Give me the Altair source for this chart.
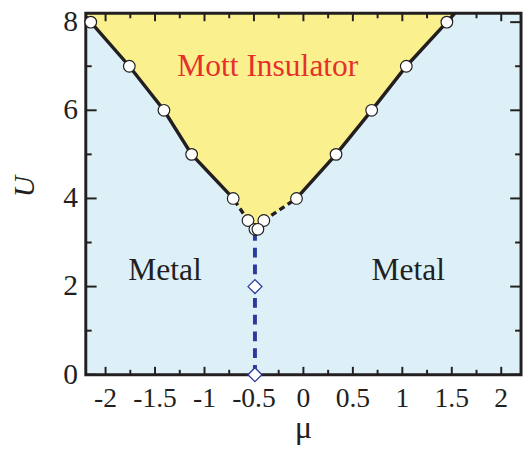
import altair as alt
import pandas as pd

# Phase boundary (Mott insulator / metal)
U_levels = [8.0, 7.0, 6.0, 5.0, 4.0, 3.5, 3.3]
mu_left = [-2.15, -1.76, -1.41, -1.13, -0.71, -0.56, -0.49]
mu_right = [1.45, 1.04, 0.69, 0.33, -0.07, -0.40, -0.46]
# where the boundary meets the top of the frame
U_edge = 8.2
mu_left_edge = -2.23
mu_right_edge = 1.53

# metal-metal line (blue)
mu_crit = -0.49
U_diamonds = [0.0, 2.0]
U_crit_top = 3.3

# region labels
label_text = ["Mott Insulator", "Metal", "Metal"]
label_mu = [-0.36, -1.40, 1.06]
label_U = [6.78, 2.16, 2.16]
label_color = ["#e5302c", "#231f20", "#231f20"]

# axis ticks and labels
x_major = [-2, -1.5, -1, -0.5, 0, 0.5, 1, 1.5, 2]
x_labels = ["-2", "-1.5", "-1", "-0.5", "0", "0.5", "1", "1.5", "2"]
x_minor = [-1.75, -1.25, -0.75, -0.25, 0.25, 0.75, 1.25, 1.75]
y_major = [0, 2, 4, 6, 8]
y_labels = ["0", "2", "4", "6", "8"]
y_minor = [1, 3, 5, 7]
x_title = "μ"
y_title = "U"

X_DOM = [-2.2, 2.2]
Y_DOM = [0, 8.2]
W, H = 442, 367
FONT = "Liberation Serif, Times New Roman, serif"
INK = "#231f20"

xs = alt.Scale(domain=X_DOM, nice=False, zero=False)
ys = alt.Scale(domain=Y_DOM, nice=False, zero=False)

# ---------- data tables ----------
area_df = pd.DataFrame({
    "U": [U_edge] + U_levels,
    "left": [mu_left_edge] + mu_left,
    "right": [mu_right_edge] + mu_right,
})

rows = []
for u, m in zip([U_edge] + U_levels, [mu_left_edge] + mu_left):
    rows.append({"branch": "L", "U": u, "mu": m})
for u, m in zip([U_edge] + U_levels, [mu_right_edge] + mu_right):
    rows.append({"branch": "R", "U": u, "mu": m})
bnd = pd.DataFrame(rows)
solid_df = bnd[bnd["U"] >= 4.0]
dash_df = bnd[bnd["U"] <= 4.0]

pts_df = pd.DataFrame({"mu": mu_left + mu_right, "U": U_levels + U_levels})
crit_line_df = pd.DataFrame({"mu": [mu_crit, mu_crit], "U": [0.0, U_crit_top]})
diam_df = pd.DataFrame({"mu": [mu_crit] * len(U_diamonds), "U": U_diamonds})
text_df = pd.DataFrame({"t": label_text, "mu": label_mu, "U": label_U, "c": label_color})

xmaj_df = pd.DataFrame({"v": x_major, "t": x_labels})
xmin_df = pd.DataFrame({"v": x_minor})
ymaj_df = pd.DataFrame({"v": y_major, "t": y_labels})
ymin_df = pd.DataFrame({"v": y_minor})
one_df = pd.DataFrame({"a": [0]})


def X(field):
    return alt.X(field, type="quantitative", scale=xs, axis=None)


def Y(field):
    return alt.Y(field, type="quantitative", scale=ys, axis=None)


# ---------- layers ----------
area = alt.Chart(area_df).mark_area(
    orient="horizontal", color="#fbf08e", clip=True, opacity=1
).encode(y=Y("U"), x=X("left"), x2="right:Q")


def xtick(df, top, length):
    y0 = 0 if top else H
    y1 = length if top else H - length
    return alt.Chart(df).mark_rule(color=INK, strokeWidth=2).encode(
        x=X("v"), y=alt.value(y0), y2=alt.value(y1))


def ytick(df, right, length):
    x0 = W if right else 0
    x1 = W - length if right else length
    return alt.Chart(df).mark_rule(color=INK, strokeWidth=2).encode(
        y=Y("v"), x=alt.value(x0), x2=alt.value(x1))


ticks = [
    xtick(xmaj_df, False, 8), xtick(xmin_df, False, 5),
    xtick(xmaj_df, True, 8), xtick(xmin_df, True, 5),
    ytick(ymaj_df, False, 11), ytick(ymin_df, False, 6),
    ytick(ymaj_df, True, 11), ytick(ymin_df, True, 6),
]

xlab = alt.Chart(xmaj_df).mark_text(
    font=FONT, fontSize=28, color=INK, align="center", baseline="alphabetic"
).encode(x=X("v"), y=alt.value(H + 33), text="t:N")

ylab = alt.Chart(ymaj_df).mark_text(
    font=FONT, fontSize=30, color=INK, align="right", baseline="middle"
).encode(y=Y("v"), x=alt.value(-8), text="t:N")

xtit = alt.Chart(one_df).mark_text(
    font=FONT, fontSize=33, color=INK, align="center", baseline="alphabetic",
    text=x_title
).encode(x=alt.X(datum=0, scale=xs, axis=None), y=alt.value(H + 64))

ytit = alt.Chart(one_df).mark_text(
    font=FONT, fontSize=30, fontStyle="italic", color=INK, align="center",
    baseline="middle", angle=270, text=y_title
).encode(x=alt.value(-62), y=alt.value(176))

frame = alt.Chart(one_df).mark_rect(filled=False, stroke=INK, strokeWidth=3).encode(
    x=alt.X(datum=X_DOM[0], scale=xs, axis=None),
    x2=alt.X2(datum=X_DOM[1]),
    y=alt.Y(datum=Y_DOM[0], scale=ys, axis=None),
    y2=alt.Y2(datum=Y_DOM[1]),
)

solid = alt.Chart(solid_df).mark_line(color=INK, strokeWidth=3.5, clip=True).encode(
    x=X("mu"), y=Y("U"), detail="branch:N", order=alt.Order("U:Q"))

dashed = alt.Chart(dash_df).mark_line(color=INK, strokeWidth=3.5, strokeDash=[6, 4]).encode(
    x=X("mu"), y=Y("U"), detail="branch:N", order=alt.Order("U:Q"))

crit = alt.Chart(crit_line_df).mark_line(
    color="#2b3a9c", strokeWidth=4, strokeDash=[10, 7]
).encode(x=X("mu"), y=Y("U"), order=alt.Order("U:Q"))

circles = alt.Chart(pts_df).mark_point(
    shape="circle", filled=True, fill="white", stroke=INK,
    strokeWidth=1.2, size=140, opacity=1
).encode(x=X("mu"), y=Y("U"))

diamonds = alt.Chart(diam_df).mark_point(
    shape="diamond", filled=True, fill="white", stroke="#2b3a9c",
    strokeWidth=1.3, size=200, opacity=1
).encode(x=X("mu"), y=Y("U"))

texts = alt.Chart(text_df).mark_text(
    font=FONT, fontSize=32, align="center", baseline="alphabetic"
).encode(
    x=X("mu"), y=Y("U"), text="t:N",
    color=alt.Color("c:N", scale=None),
)

chart = alt.layer(
    area, frame, *ticks, solid, dashed, crit, circles, diamonds, texts,
    xlab, ylab, xtit, ytit
).properties(
    width=W, height=H,
    autosize=alt.AutoSizeParams(type="none"),
    padding={"left": 79, "top": 2, "right": 2, "bottom": 72},
).configure_view(
    fill="#ddf0f8", strokeWidth=0
)

chart.save("out.html", embed_options={"renderer": "svg", "actions": False})
